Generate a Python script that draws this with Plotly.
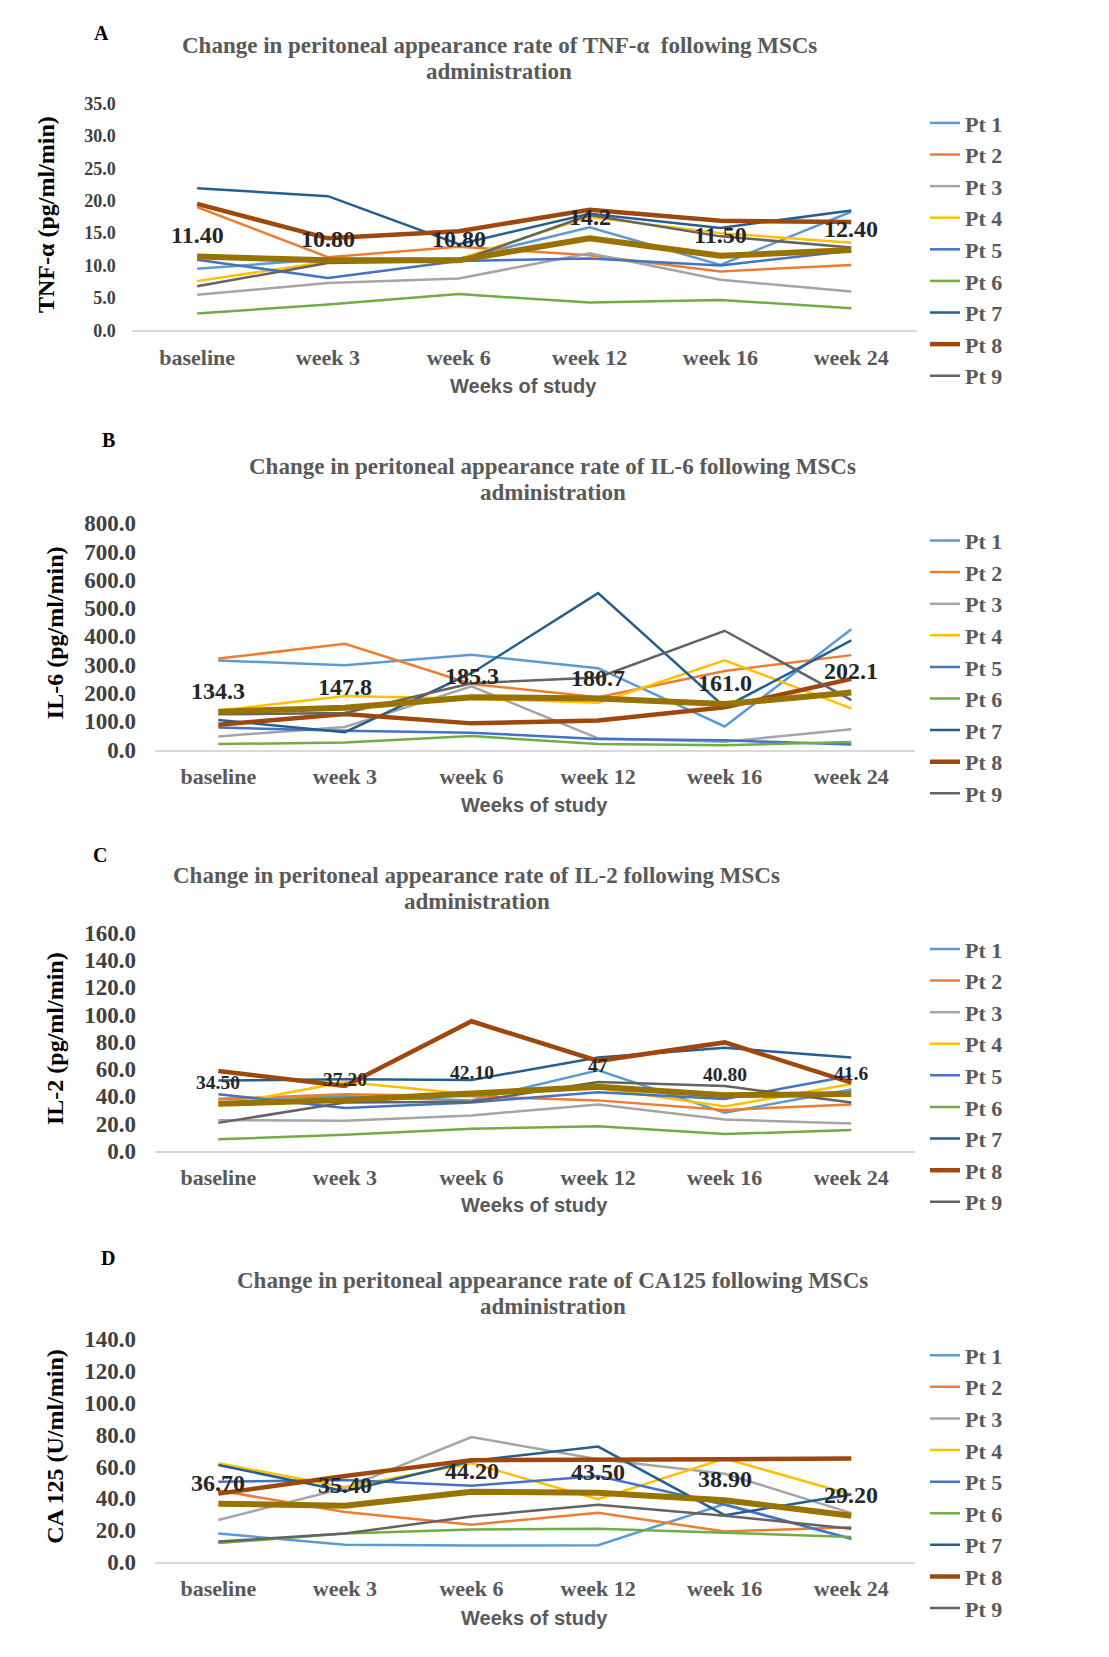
import plotly.graph_objects as go

W, H = 1109, 1657

weeks = ["baseline", "week 3", "week 6", "week 12", "week 16", "week 24"]
patients = ["Pt 1", "Pt 2", "Pt 3", "Pt 4", "Pt 5", "Pt 6", "Pt 7", "Pt 8", "Pt 9"]
colors = ["#5B9BD5", "#ED7D31", "#A5A5A5", "#FFC000", "#4472C4",
          "#70AD47", "#255E91", "#9E480E", "#636363"]
mean_color = "#997300"

# Panel A: TNF-alpha (pg/ml/min)
tnf = [
    [9.5, 11.0, 11.0, 15.9, 10.1, 18.3],
    [19.0, 11.3, 12.9, 11.6, 9.1, 10.1],
    [5.5, 7.3, 8.0, 11.9, 7.8, 6.0],
    [7.6, 10.6, 11.0, 17.5, 15.0, 13.5],
    [10.9, 8.1, 10.7, 11.1, 10.0, 12.3],
    [2.6, 4.0, 5.6, 4.3, 4.7, 3.4],
    [21.9, 20.7, 13.3, 18.0, 15.8, 18.5],
    [19.5, 14.2, 15.3, 18.6, 16.9, 16.7],
    [6.8, 10.4, 10.7, 17.8, 14.5, 12.8],
]
tnf_mean = [11.40, 10.80, 10.80, 14.2, 11.50, 12.40]
tnf_labels = ["11.40", "10.80", "10.80", "14.2", "11.50", "12.40"]

# Panel B: IL-6 (pg/ml/min)
il6 = [
    [315, 298, 335, 288, 82, 425],
    [322, 374, 232, 185, 278, 334],
    [47, 80, 224, 40, 28, 72],
    [138, 190, 180, 166, 316, 146],
    [78, 67, 60, 38, 33, 18],
    [20, 25, 48, 20, 16, 27],
    [105, 62, 270, 553, 150, 386],
    [88, 126, 93, 103, 150, 250],
    [125, 130, 235, 255, 420, 175],
]
il6_mean = [134.3, 147.8, 185.3, 180.7, 161.0, 202.1]
il6_labels = ["134.3", "147.8", "185.3", "180.7", "161.0", "202.1"]

# Panel C: IL-2 (pg/ml/min)
il2 = [
    [38, 40, 37, 59, 28, 45],
    [38, 41.5, 40, 37, 30, 34],
    [22.5, 22, 26, 34, 23, 20],
    [33, 50.5, 41.5, 46, 32.5, 49],
    [41.5, 31.5, 35.5, 43, 38, 55],
    [8.5, 11.8, 16.2, 18, 12.3, 15.2],
    [51.5, 52.5, 52, 68.5, 75.5, 68.5],
    [58.5, 47.5, 95, 66, 79.5, 50],
    [20.5, 35.5, 36, 50.5, 47.5, 35.5],
]
il2_mean = [34.5, 37.2, 42.1, 47, 40.8, 41.6]
il2_labels = ["34.50", "37.20", "42.10", "47", "40.80", "41.6"]

# Panel D: CA 125 (U/ml/min)
ca125 = [
    [18, 11, 10.5, 10.7, 36.5, 14.5],
    [45, 31.5, 23.5, 31, 19.3, 22],
    [26.5, 46.5, 78.5, 64.5, 55.5, 30.8],
    [62, 47, 62, 39.5, 65, 42.5],
    [50.5, 51.5, 48, 54, 36, 14.8],
    [12, 18, 20.5, 21, 18.5, 15.8],
    [61, 44.5, 63.5, 72.5, 29.5, 42.5],
    [43, 54, 64, 64, 64.5, 65],
    [13, 18, 28.7, 36, 29.2, 21],
]
ca125_mean = [36.7, 35.4, 44.2, 43.5, 38.9, 29.2]
ca125_labels = ["36.70", "35.40", "44.20", "43.50", "38.90", "29.20"]

panel_letters = ["A", "B", "C", "D"]
title_line1 = [
    "Change in peritoneal appearance rate of TNF-α  following MSCs",
    "Change in peritoneal appearance rate of IL-6 following MSCs",
    "Change in peritoneal appearance rate of IL-2 following MSCs",
    "Change in peritoneal appearance rate of CA125 following MSCs",
]
title_line2 = "administration"
ytitles = ["TNF-α (pg/ml/min)", "IL-6 (pg/ml/min)", "IL-2 (pg/ml/min)", "CA 125 (U/ml/min)"]
ymaxes = [35, 800, 160, 140]
ydticks = [5, 100, 20, 20]

SERIF = "Liberation Serif"
GRAY = "#595959"


def px(x):
    return x / W


def py(y):
    return 1 - y / H


# layout geometry (pixels)
geo = [
    dict(x0=131.7, x1=916.7, top=92.8, bot=323.3, tx=499, t1=33.8, t2=60.1, letter=(101.3, 21.1),
         yt_x=45.4, yt_y=205.7, xt_x=523, xt_y=379.8, leg_y=91.5,
         tickfs=18, labfs=24, tickstand=15),
    dict(x0=155, x1=914.6, top=519, bot=749, tx=552.8, t1=461, t2=487.4, letter=(108.7, 434.7),
         yt_x=54.9, yt_y=629.8, xt_x=534.9, xt_y=805, leg_y=515.5,
         tickfs=23, labfs=24, tickstand=18),
    dict(x0=155, x1=914.6, top=934.7, bot=1156.3, tx=476.9, t1=876.7, t2=903.1, letter=(100.2, 855.6),
         yt_x=54.9, yt_y=1041.8, xt_x=534.9, xt_y=1211.1, leg_y=930.2,
         tickfs=23, labfs=19.5, tickstand=18),
    dict(x0=155, x1=914.6, top=1347.2, bot=1574, tx=552.8, t1=1288.2, t2=1314.5, letter=(107.6, 1265),
         yt_x=54.9, yt_y=1455.9, xt_x=534.9, xt_y=1631, leg_y=1342.7,
         tickfs=23, labfs=24, tickstand=18),
]

datasets = [tnf, il6, il2, ca125]
means = [tnf_mean, il6_mean, il2_mean, ca125_mean]
labels = [tnf_labels, il6_labels, il2_labels, ca125_labels]

fig = go.Figure()
annotations = []
layout_extra = {}

for k in range(4):
    g = geo[k]
    sfx = "" if k == 0 else str(k + 1)
    xname, yname = "x" + sfx, "y" + sfx
    legname = "legend" + sfx
    for i, name in enumerate(patients):
        fig.add_trace(go.Scatter(
            x=weeks, y=datasets[k][i], mode="lines", name=name,
            line=dict(color=colors[i], width=4.5 if i == 7 else 2.5),
            xaxis=xname, yaxis=yname, legend=legname,
            legendgroup=f"p{k}_{i}", showlegend=True,
        ))
    fig.add_trace(go.Scatter(
        x=weeks, y=means[k], mode="lines", name="Mean",
        line=dict(color=mean_color, width=6),
        xaxis=xname, yaxis=yname, showlegend=False,
    ))
    for j, wk in enumerate(weeks):
        annotations.append(dict(
            x=wk, y=means[k][j], xref=xname, yref=yname, text=labels[k][j],
            showarrow=False, yshift=21,
            font=dict(family=SERIF, size=g["labfs"], color="#262626", weight="bold"),
        ))
    layout_extra["xaxis" + sfx] = dict(
        domain=[px(g["x0"]), px(g["x1"])], anchor=yname,
        type="category", range=[-0.5, 5.5],
        showline=True, linecolor="#D9D9D9", linewidth=1.5,
        showgrid=False, zeroline=False, ticks="",
        tickfont=dict(family=SERIF, size=22, color=GRAY, weight="bold"),
        ticklabelstandoff=6,
    )
    layout_extra["yaxis" + sfx] = dict(
        domain=[py(g["bot"]), py(g["top"])], anchor=xname,
        range=[0, ymaxes[k]], dtick=ydticks[k], tick0=0, tickformat=".1f",
        showline=False, showgrid=False, zeroline=False, ticks="",
        tickfont=dict(family=SERIF, size=g["tickfs"], color="#404040", weight="bold"),
        ticklabelstandoff=g["tickstand"],
    )
    layout_extra[legname] = dict(
        x=px(925), xanchor="left", y=py(g["leg_y"]), yanchor="top",
        font=dict(family=SERIF, size=22, color=GRAY, weight="bold"),
        tracegroupgap=0, itemwidth=30, bgcolor="rgba(0,0,0,0)",
    )
    # title (two lines)
    for txt, ty in ((title_line1[k], g["t1"]), (title_line2, g["t2"])):
        annotations.append(dict(
            x=px(g["tx"]), y=py(ty), xref="paper", yref="paper",
            text=txt, showarrow=False, xanchor="center", yanchor="middle",
            font=dict(family=SERIF, size=23, color=GRAY, weight="bold"),
        ))
    # panel letter
    annotations.append(dict(
        x=px(g["letter"][0]), y=py(g["letter"][1]), xref="paper", yref="paper",
        text=panel_letters[k], showarrow=False, xanchor="center", yanchor="middle",
        font=dict(family=SERIF, size=20, color="#000000", weight="bold"),
    ))
    # y-axis title
    annotations.append(dict(
        x=px(g["yt_x"]), y=py(g["yt_y"]), xref="paper", yref="paper",
        text=ytitles[k], showarrow=False, textangle=-90,
        xanchor="center", yanchor="middle",
        font=dict(family=SERIF, size=24, color="#000000", weight="bold"),
    ))
    # x-axis title
    annotations.append(dict(
        x=px(g["xt_x"]), y=py(g["xt_y"]), xref="paper", yref="paper",
        text="Weeks of study", showarrow=False, xanchor="center", yanchor="middle",
        font=dict(family="Liberation Sans Narrow, Liberation Sans", size=20, color=GRAY, weight="bold"),
    ))

fig.update_layout(
    width=W, height=H, margin=dict(l=0, r=0, t=0, b=0),
    paper_bgcolor="white", plot_bgcolor="white",
    annotations=annotations, **layout_extra,
)

fig.write_html("out.html", config={"displayModeBar": False},
               post_script="document.body.style.margin='0px';")
